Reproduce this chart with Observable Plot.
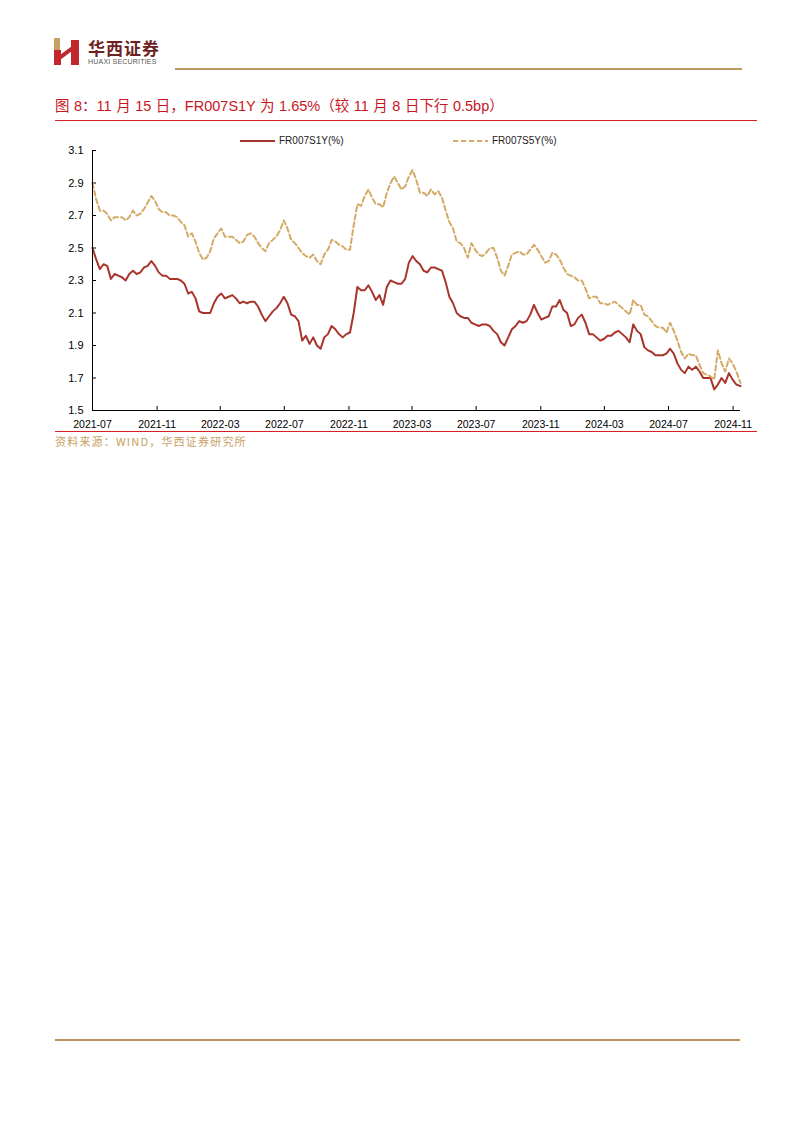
<!DOCTYPE html>
<html><head><meta charset="utf-8">
<script src="https://cdn.jsdelivr.net/npm/d3@7"></script>
<script src="https://cdn.jsdelivr.net/npm/@observablehq/plot@0.6"></script>
<style>
html,body{margin:0;padding:0;background:#fff;}
#page{position:relative;width:802px;height:1133px;overflow:hidden;background:#fff;font-family:"Liberation Sans",Arial,"Noto Sans CJK SC",sans-serif;}
.abs{position:absolute;}
.line{position:absolute;}
#title{left:55px;top:97px;font-size:14.5px;line-height:18px;word-spacing:0.5px;color:#C8161E;white-space:nowrap;font-family:"Liberation Sans",Arial,"Noto Sans CJK SC",sans-serif;}
#source{left:55px;top:434px;font-size:11px;line-height:14px;color:#C9A063;letter-spacing:1.2px;white-space:nowrap;font-family:"Noto Sans CJK SC","Liberation Sans",sans-serif;}
.leg{position:absolute;top:135px;font-size:10px;line-height:12px;color:#222;white-space:nowrap;display:flex;align-items:center;}
.leg svg{margin-right:4px;}
#brandcn{left:88px;top:39px;font-size:17px;line-height:17px;font-weight:bold;color:#6e2323;letter-spacing:1px;font-family:"Noto Sans CJK SC",sans-serif;white-space:nowrap;}
#branden{left:88px;top:58px;font-size:7px;line-height:8px;color:#555;white-space:nowrap;letter-spacing:0.2px;}
#chart{position:absolute;left:0;top:130px;}
</style></head><body>
<div id="page">
  <svg class="abs" style="left:52px;top:36px" width="30" height="30" viewBox="0 0 30 30">
    <rect x="2" y="2" width="6" height="13" fill="#C9A063"/>
    <rect x="2" y="14" width="7" height="15" fill="#C0282D"/>
    <polygon points="8,19 20,10 20,15 8,24" fill="#C0282D"/>
    <rect x="19" y="4" width="8" height="25" fill="#C0282D"/>
  </svg>
  <div id="brandcn" class="abs">华西证券</div>
  <div id="branden" class="abs">HUAXI SECURITIES</div>
  <div class="line" style="left:175px;top:68px;width:567px;height:2px;background:#BE9A62"></div>
  <div id="title" class="abs">图 8：11 月 15 日，FR007S1Y 为 1.65%（较 11 月 8 日下行 0.5bp）</div>
  <div class="line" style="left:55px;top:120px;width:702px;height:1px;background:#D42027"></div>
  <div class="leg" style="left:240px"><svg width="35" height="6"><line x1="0" y1="3" x2="35" y2="3" stroke="#A9342B" stroke-width="2"/></svg>FR007S1Y(%)</div>
  <div class="leg" style="left:453px"><svg width="35" height="6"><line x1="0" y1="3" x2="35" y2="3" stroke="#D4AA66" stroke-width="2" stroke-dasharray="5,3"/></svg>FR007S5Y(%)</div>
  <div id="chart"></div>
  <div class="line" style="left:55px;top:431px;width:702px;height:1px;background:#D42027"></div>
  <div id="source" class="abs">资料来源：WIND，华西证券研究所</div>
  <div class="line" style="left:55px;top:1039px;width:685px;height:2px;background:#B8925A"></div>
</div>
<script>
const dates = [
"2021-07-01","2021-07-08","2021-07-15","2021-07-22","2021-07-29","2021-08-05","2021-08-12","2021-08-19","2021-08-26","2021-09-02",
"2021-09-09","2021-09-16","2021-09-23","2021-09-30","2021-10-07","2021-10-14","2021-10-21","2021-10-28","2021-11-04","2021-11-11",
"2021-11-18","2021-11-25","2021-12-02","2021-12-09","2021-12-16","2021-12-23","2021-12-30","2022-01-06","2022-01-13","2022-01-20",
"2022-01-27","2022-02-03","2022-02-10","2022-02-17","2022-02-24","2022-03-03","2022-03-10","2022-03-17","2022-03-24","2022-03-31",
"2022-04-07","2022-04-14","2022-04-21","2022-04-28","2022-05-05","2022-05-12","2022-05-19","2022-05-26","2022-06-02","2022-06-09",
"2022-06-16","2022-06-23","2022-06-30","2022-07-07","2022-07-14","2022-07-21","2022-07-28","2022-08-04","2022-08-11","2022-08-18",
"2022-08-25","2022-09-01","2022-09-08","2022-09-15","2022-09-22","2022-09-29","2022-10-06","2022-10-13","2022-10-20","2022-10-27",
"2022-11-03","2022-11-10","2022-11-17","2022-11-24","2022-12-01","2022-12-08","2022-12-15","2022-12-22","2022-12-29","2023-01-05",
"2023-01-12","2023-01-19","2023-01-26","2023-02-02","2023-02-09","2023-02-16","2023-02-23","2023-03-02","2023-03-09","2023-03-16",
"2023-03-23","2023-03-30","2023-04-06","2023-04-13","2023-04-20","2023-04-27","2023-05-04","2023-05-11","2023-05-18","2023-05-25",
"2023-06-01","2023-06-08","2023-06-15","2023-06-22","2023-06-29","2023-07-06","2023-07-13","2023-07-20","2023-07-27","2023-08-03",
"2023-08-10","2023-08-17","2023-08-24","2023-08-31","2023-09-07","2023-09-14","2023-09-21","2023-09-28","2023-10-05","2023-10-12",
"2023-10-19","2023-10-26","2023-11-02","2023-11-09","2023-11-16","2023-11-23","2023-11-30","2023-12-07","2023-12-14","2023-12-21",
"2023-12-28","2024-01-04","2024-01-11","2024-01-18","2024-01-25","2024-02-01","2024-02-08","2024-02-15","2024-02-22","2024-02-29",
"2024-03-07","2024-03-14","2024-03-21","2024-03-28","2024-04-04","2024-04-11","2024-04-18","2024-04-25","2024-05-02","2024-05-09",
"2024-05-16","2024-05-23","2024-05-30","2024-06-06","2024-06-13","2024-06-20","2024-06-27","2024-07-04","2024-07-11","2024-07-18",
"2024-07-25","2024-08-01","2024-08-08","2024-08-15","2024-08-22","2024-08-29","2024-09-05","2024-09-12","2024-09-19","2024-09-26",
"2024-10-03","2024-10-10","2024-10-17","2024-10-24","2024-10-31","2024-11-07","2024-11-15"
];
const fr007s1y = [
2.50,2.43,2.37,2.40,2.39, 2.31,2.34,2.33,2.32,2.30, 2.34,2.36,2.34,2.35,2.38, 2.39,2.42,2.39,2.35,2.33,
2.33,2.31,2.31,2.31,2.30, 2.28,2.22,2.23,2.19,2.11, 2.10,2.10,2.10,2.16,2.20, 2.22,2.19,2.20,2.21,2.19,
2.16,2.17,2.16,2.17,2.17, 2.14,2.09,2.05,2.08,2.11, 2.13,2.16,2.20,2.16,2.09, 2.08,2.05,1.93,1.96,1.91,
1.95,1.90,1.88,1.95,1.97, 2.02,2.00,1.97,1.95,1.97, 1.98,2.10,2.26,2.24,2.24, 2.27,2.23,2.18,2.21,2.15,
2.26,2.30,2.29,2.28,2.28, 2.31,2.41,2.45,2.42,2.40, 2.36,2.35,2.38,2.38,2.37, 2.36,2.29,2.20,2.16,2.10,
2.08,2.07,2.07,2.04,2.03, 2.02,2.03,2.03,2.02,1.99, 1.97,1.92,1.90,1.95,2.00, 2.02,2.05,2.04,2.05,2.09,
2.15,2.10,2.06,2.07,2.08, 2.14,2.14,2.18,2.12,2.10, 2.02,2.03,2.07,2.09,2.04, 1.97,1.97,1.95,1.93,1.94,
1.96,1.96,1.98,1.99,1.97, 1.95,1.92,2.03,1.99,1.97, 1.89,1.87,1.86,1.84,1.84, 1.84,1.85,1.88,1.85,1.79,
1.75,1.73,1.77,1.75,1.77, 1.74,1.70,1.70,1.70,1.63, 1.66,1.70,1.67,1.73,1.69, 1.66,1.65
];
const fr007s5y = [
2.90,2.80,2.73,2.73,2.71, 2.67,2.69,2.69,2.69,2.67, 2.69,2.73,2.70,2.71,2.74, 2.78,2.82,2.79,2.74,2.72,
2.72,2.70,2.70,2.69,2.66, 2.64,2.57,2.59,2.54,2.47, 2.43,2.44,2.48,2.56,2.59, 2.62,2.57,2.57,2.57,2.55,
2.53,2.54,2.58,2.59,2.57, 2.53,2.50,2.48,2.53,2.55, 2.57,2.61,2.67,2.62,2.55, 2.53,2.50,2.47,2.45,2.44,
2.46,2.42,2.40,2.46,2.49, 2.55,2.54,2.52,2.51,2.49, 2.49,2.64,2.77,2.76,2.82, 2.86,2.81,2.77,2.77,2.75,
2.84,2.90,2.94,2.90,2.86, 2.88,2.94,2.98,2.92,2.84, 2.84,2.82,2.86,2.83,2.85, 2.81,2.73,2.66,2.62,2.54,
2.53,2.50,2.44,2.53,2.49, 2.46,2.45,2.47,2.50,2.50, 2.44,2.36,2.33,2.39,2.46, 2.47,2.48,2.46,2.46,2.49,
2.52,2.49,2.45,2.41,2.42, 2.47,2.46,2.43,2.38,2.34, 2.33,2.32,2.30,2.30,2.25, 2.19,2.20,2.20,2.16,2.16,
2.15,2.16,2.17,2.15,2.13, 2.11,2.09,2.18,2.15,2.15, 2.09,2.08,2.05,2.02,2.01, 2.01,1.98,2.04,1.99,1.93,
1.86,1.82,1.85,1.84,1.84, 1.78,1.73,1.72,1.71,1.69, 1.87,1.79,1.74,1.82,1.79, 1.74,1.67
];
const xTickLabels = ["2021-07","2021-11","2022-03","2022-07","2022-11","2023-03","2023-07","2023-11","2024-03","2024-07","2024-11"];
const yTickValues = [1.5,1.7,1.9,2.1,2.3,2.5,2.7,2.9,3.1];

const parseDay = d3.utcParse("%Y-%m-%d");
const parseMonth = d3.utcParse("%Y-%m");
const rows = dates.map((d, i) => ({date: parseDay(d), s1: fr007s1y[i], s5: fr007s5y[i]}));
const x0 = rows[0].date, x1 = rows[rows.length - 1].date;

const chart = Plot.plot({
  width: 802,
  height: 300,
  marginTop: 20,
  marginBottom: 20,
  marginLeft: 92,
  marginRight: 62,
  style: {fontFamily: "'Liberation Sans', Arial, sans-serif", fontSize: "11px", color: "#000", background: "transparent"},
  x: {type: "utc", domain: [x0, x1]},
  y: {domain: [yTickValues[0], yTickValues[yTickValues.length - 1]]},
  marks: [
    Plot.axisY({ticks: yTickValues, tickSize: -4, tickPadding: 13, tickFormat: d => d.toFixed(1), label: null, fontSize: 11}),
    Plot.axisX({ticks: xTickLabels.map(parseMonth), tickSize: -4, tickPadding: 14, tickFormat: d3.utcFormat("%Y-%m"), label: null, fontSize: 10.5}),
    Plot.line(rows, {x: "date", y: "s1", stroke: "#A9342B", strokeWidth: 2}),
    Plot.line(rows, {x: "date", y: "s5", stroke: "#D4AA66", strokeWidth: 2, strokeDasharray: "5,3"}),
    Plot.ruleX([x0], {stroke: "#000"}),
    Plot.ruleY([yTickValues[0]], {stroke: "#000"})
  ]
});
document.getElementById("chart").appendChild(chart);
</script>
</body></html>
